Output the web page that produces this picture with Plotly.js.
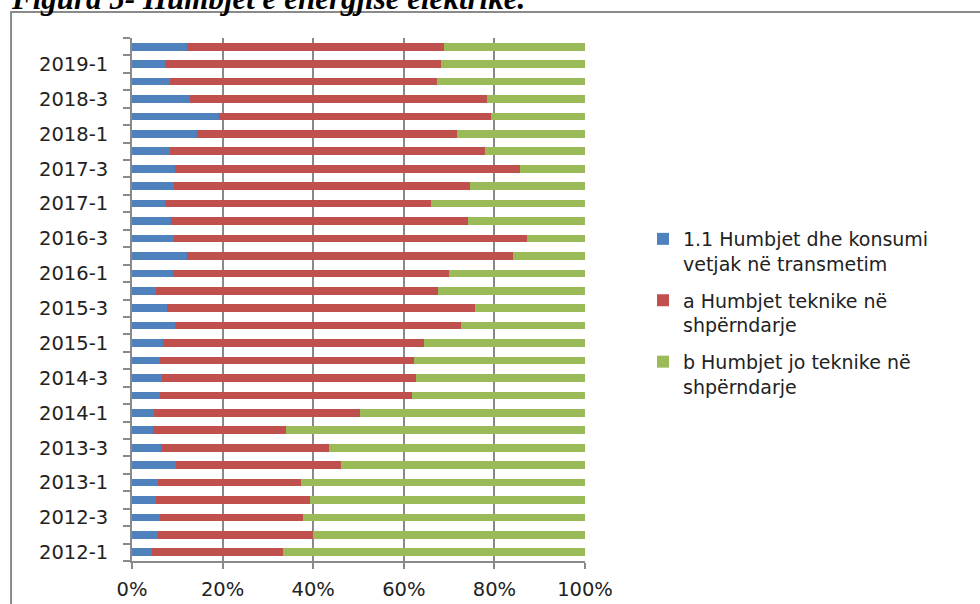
<!DOCTYPE html>
<html>
<head>
<meta charset="utf-8">
<script src="https://cdn.plot.ly/plotly-3.0.1.min.js"></script>
<style>html,body{margin:0;padding:0;background:#fff;}#chart{width:980px;height:604px;}</style>
</head>
<body>
<div id="chart"></div>
<script>
const categories = ["2012-1","2012-2","2012-3","2012-4","2013-1","2013-2","2013-3","2013-4",
  "2014-1","2014-2","2014-3","2014-4","2015-1","2015-2","2015-3","2015-4",
  "2016-1","2016-2","2016-3","2016-4","2017-1","2017-2","2017-3","2017-4",
  "2018-1","2018-2","2018-3","2018-4","2019-1","2019-2"];
const transmission = [4.4,5.7,6.1,5.4,5.7,9.8,6.3,4.6,4.8,6.1,6.7,6.1,6.9,9.5,7.7,5.4,9.0,12.1,9.2,8.6,7.3,9.2,9.5,8.4,14.4,19.3,12.7,8.4,7.3,12.1];
const technical = [29.0,34.3,31.7,33.8,31.5,36.3,37.2,29.4,45.6,55.6,56.1,56.1,57.6,63.2,68.1,62.1,61.0,71.9,77.9,65.5,58.7,65.5,76.1,69.5,57.4,60.0,65.7,59.0,60.9,56.7];
const nonTechnical = [66.6,60.0,62.2,60.8,62.8,53.9,56.5,66.0,49.6,38.3,37.2,37.8,35.5,27.3,24.2,32.5,30.0,16.0,12.9,25.9,34.0,25.3,14.4,22.1,28.2,20.7,21.6,32.6,31.8,31.2];
const seriesNames = ["1.1 Humbjet dhe konsumi<br>vetjak në transmetim",
  "a Humbjet teknike në<br>shpërndarje",
  "b Humbjet jo teknike në<br>shpërndarje"];
const xTickValues = [0, 20, 40, 60, 80, 100];
const xTickLabels = ["0%", "20%", "40%", "60%", "80%", "100%"];
const tickLabels = categories.map((c, i) => (i % 2 === 0 ? c : ""));
const titleText = "Figura 5- Humbjet e energjisë elektrike.";

const colors = ["#4F81BD", "#C0504D", "#9BBB59"];
const values = [transmission, technical, nonTechnical];
const font = "DejaVu Sans, Open Sans, sans-serif";

const traces = values.map((v, k) => ({
  type: "bar",
  orientation: "h",
  y: categories,
  x: v,
  name: seriesNames[k],
  legendgroup: "g" + k,
  marker: {color: colors[k], line: {width: 0}},
  hoverinfo: "x+y+name"
}));

const layout = {
  width: 980, height: 604,
  margin: {l: 132, r: 395, t: 38, b: 43, pad: 0},
  paper_bgcolor: "#ffffff", plot_bgcolor: "#ffffff",
  barmode: "stack",
  bargap: 0.56,
  showlegend: true,
  legend: {
    x: 1.128, xanchor: "left", y: 0.652, yanchor: "top",
    traceorder: "grouped", tracegroupgap: 9, valign: "top",
    font: {family: font, size: 19, color: "#222222"},
    itemwidth: 30
  },
  xaxis: {
    range: [0, 100], tickmode: "array", tickvals: xTickValues, ticktext: xTickLabels,
    showgrid: true, gridcolor: "#8a8a8a", gridwidth: 2,
    showline: true, linecolor: "#8a8a8a", linewidth: 2,
    ticks: "outside", ticklen: 6, tickcolor: "#8a8a8a", tickwidth: 2,
    zeroline: false, fixedrange: true,
    ticklabelstandoff: 4,
    tickfont: {family: font, size: 19.5, color: "#222222"}
  },
  yaxis: {
    type: "category", categoryorder: "array", categoryarray: categories,
    tickmode: "array", tickvals: categories, ticktext: tickLabels,
    tickson: "boundaries",
    ticks: "outside", ticklen: 7, tickcolor: "#8a8a8a", tickwidth: 2,
    showline: true, linecolor: "#8a8a8a", linewidth: 2,
    showgrid: false, zeroline: false, fixedrange: true,
    ticklabelstandoff: 18,
    tickfont: {family: font, size: 19.5, color: "#222222"}
  },
  shapes: [{
    type: "rect", xref: "paper", yref: "paper",
    x0: -0.267, x1: 2.0, y0: -0.3, y1: 1.0497,
    line: {color: "#8a8a8a", width: 2}, fillcolor: "rgba(0,0,0,0)", layer: "below"
  }],
  annotations: [{
    text: "<b><i>" + titleText + "</i></b>",
    xref: "paper", yref: "paper", x: -0.272, xanchor: "left",
    y: 1.0746, yanchor: "middle", showarrow: false,
    font: {family: "Liberation Serif, Times New Roman, serif", size: 31, color: "#000000"}
  }]
};

Plotly.newPlot("chart", traces, layout, {displayModeBar: false, staticPlot: true});
</script>
</body>
</html>
